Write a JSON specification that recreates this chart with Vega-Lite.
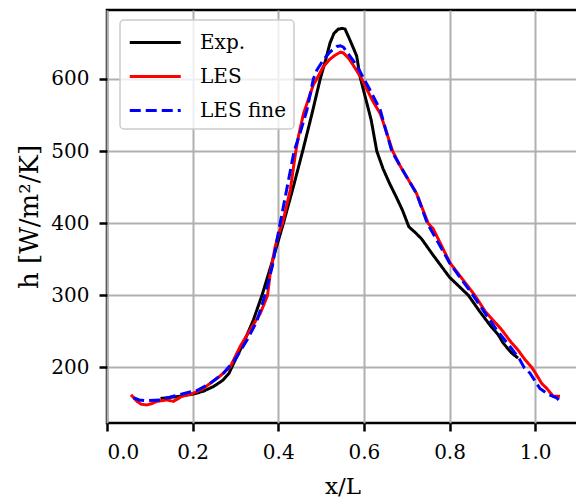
{
  "$schema": "https://vega.github.io/schema/vega-lite/v6.json",
  "autosize": "none",
  "padding": {"left": 107, "top": 10, "right": 0, "bottom": 75},
  "width": 471,
  "height": 413,
  "background": "white",
  "data": {"values": [
    {"s":"Exp.","x":0.125,"h":157},{"s":"Exp.","x":0.14,"h":158},{"s":"Exp.","x":0.17,"h":160},{"s":"Exp.","x":0.2,"h":163},{"s":"Exp.","x":0.225,"h":167},{"s":"Exp.","x":0.25,"h":174},{"s":"Exp.","x":0.27,"h":182},{"s":"Exp.","x":0.285,"h":192},{"s":"Exp.","x":0.296,"h":206},{"s":"Exp.","x":0.319,"h":234},{"s":"Exp.","x":0.342,"h":266},{"s":"Exp.","x":0.362,"h":300},{"s":"Exp.","x":0.385,"h":345},{"s":"Exp.","x":0.412,"h":400},{"s":"Exp.","x":0.435,"h":450},{"s":"Exp.","x":0.457,"h":500},{"s":"Exp.","x":0.478,"h":550},{"s":"Exp.","x":0.498,"h":600},{"s":"Exp.","x":0.51,"h":625},{"s":"Exp.","x":0.521,"h":650},{"s":"Exp.","x":0.53,"h":663},{"s":"Exp.","x":0.54,"h":669},{"s":"Exp.","x":0.55,"h":670},{"s":"Exp.","x":0.556,"h":669},{"s":"Exp.","x":0.568,"h":653},{"s":"Exp.","x":0.583,"h":632},{"s":"Exp.","x":0.591,"h":603},{"s":"Exp.","x":0.617,"h":543},{"s":"Exp.","x":0.63,"h":500},{"s":"Exp.","x":0.645,"h":475},{"s":"Exp.","x":0.66,"h":455},{"s":"Exp.","x":0.675,"h":437},{"s":"Exp.","x":0.69,"h":418},{"s":"Exp.","x":0.705,"h":395},{"s":"Exp.","x":0.72,"h":387},{"s":"Exp.","x":0.735,"h":378},{"s":"Exp.","x":0.76,"h":357},{"s":"Exp.","x":0.8,"h":325},{"s":"Exp.","x":0.844,"h":300},{"s":"Exp.","x":0.87,"h":278},{"s":"Exp.","x":0.894,"h":259},{"s":"Exp.","x":0.914,"h":245},{"s":"Exp.","x":0.925,"h":234},{"s":"Exp.","x":0.945,"h":220},{"s":"Exp.","x":0.96,"h":213},
    {"s":"LES","x":0.056,"h":162},{"s":"LES","x":0.07,"h":153},{"s":"LES","x":0.08,"h":149},{"s":"LES","x":0.093,"h":148},{"s":"LES","x":0.105,"h":150},{"s":"LES","x":0.117,"h":153},{"s":"LES","x":0.14,"h":155},{"s":"LES","x":0.155,"h":153},{"s":"LES","x":0.175,"h":160},{"s":"LES","x":0.2,"h":164},{"s":"LES","x":0.22,"h":169},{"s":"LES","x":0.241,"h":178},{"s":"LES","x":0.264,"h":188},{"s":"LES","x":0.288,"h":201},{"s":"LES","x":0.311,"h":229},{"s":"LES","x":0.334,"h":252},{"s":"LES","x":0.358,"h":275},{"s":"LES","x":0.369,"h":291},{"s":"LES","x":0.375,"h":300},{"s":"LES","x":0.381,"h":330},{"s":"LES","x":0.393,"h":368},{"s":"LES","x":0.404,"h":391},{"s":"LES","x":0.41,"h":400},{"s":"LES","x":0.428,"h":446},{"s":"LES","x":0.441,"h":500},{"s":"LES","x":0.447,"h":520},{"s":"LES","x":0.459,"h":552},{"s":"LES","x":0.482,"h":592},{"s":"LES","x":0.49,"h":600},{"s":"LES","x":0.505,"h":617},{"s":"LES","x":0.52,"h":627},{"s":"LES","x":0.533,"h":633},{"s":"LES","x":0.545,"h":637},{"s":"LES","x":0.552,"h":636},{"s":"LES","x":0.565,"h":628},{"s":"LES","x":0.575,"h":619},{"s":"LES","x":0.595,"h":600},{"s":"LES","x":0.62,"h":570},{"s":"LES","x":0.638,"h":552},{"s":"LES","x":0.645,"h":540},{"s":"LES","x":0.667,"h":500},{"s":"LES","x":0.684,"h":480},{"s":"LES","x":0.723,"h":441},{"s":"LES","x":0.75,"h":400},{"s":"LES","x":0.762,"h":392},{"s":"LES","x":0.801,"h":345},{"s":"LES","x":0.832,"h":321},{"s":"LES","x":0.859,"h":300},{"s":"LES","x":0.883,"h":278},{"s":"LES","x":0.898,"h":268},{"s":"LES","x":0.922,"h":252},{"s":"LES","x":0.945,"h":234},{"s":"LES","x":0.96,"h":224},{"s":"LES","x":0.976,"h":211},{"s":"LES","x":0.992,"h":200},{"s":"LES","x":1.003,"h":190},{"s":"LES","x":1.015,"h":178},{"s":"LES","x":1.027,"h":171},{"s":"LES","x":1.042,"h":160},{"s":"LES","x":1.058,"h":160},
    {"s":"LES fine","x":0.062,"h":158},{"s":"LES fine","x":0.075,"h":155},{"s":"LES fine","x":0.093,"h":154},{"s":"LES fine","x":0.124,"h":155},{"s":"LES fine","x":0.155,"h":160},{"s":"LES fine","x":0.187,"h":165},{"s":"LES fine","x":0.21,"h":168},{"s":"LES fine","x":0.241,"h":178},{"s":"LES fine","x":0.272,"h":192},{"s":"LES fine","x":0.299,"h":211},{"s":"LES fine","x":0.327,"h":238},{"s":"LES fine","x":0.35,"h":264},{"s":"LES fine","x":0.369,"h":300},{"s":"LES fine","x":0.386,"h":340},{"s":"LES fine","x":0.397,"h":377},{"s":"LES fine","x":0.412,"h":423},{"s":"LES fine","x":0.437,"h":500},{"s":"LES fine","x":0.451,"h":525},{"s":"LES fine","x":0.467,"h":557},{"s":"LES fine","x":0.482,"h":600},{"s":"LES fine","x":0.49,"h":612},{"s":"LES fine","x":0.505,"h":626},{"s":"LES fine","x":0.52,"h":637},{"s":"LES fine","x":0.537,"h":645},{"s":"LES fine","x":0.545,"h":646},{"s":"LES fine","x":0.552,"h":644},{"s":"LES fine","x":0.567,"h":632},{"s":"LES fine","x":0.583,"h":619},{"s":"LES fine","x":0.6,"h":600},{"s":"LES fine","x":0.614,"h":585},{"s":"LES fine","x":0.638,"h":557},{"s":"LES fine","x":0.665,"h":500},{"s":"LES fine","x":0.684,"h":480},{"s":"LES fine","x":0.723,"h":441},{"s":"LES fine","x":0.748,"h":400},{"s":"LES fine","x":0.8,"h":345},{"s":"LES fine","x":0.855,"h":300},{"s":"LES fine","x":0.88,"h":278},{"s":"LES fine","x":0.91,"h":252},{"s":"LES fine","x":0.94,"h":230},{"s":"LES fine","x":0.964,"h":211},{"s":"LES fine","x":0.974,"h":200},{"s":"LES fine","x":0.988,"h":192},{"s":"LES fine","x":1.003,"h":178},{"s":"LES fine","x":1.011,"h":171},{"s":"LES fine","x":1.03,"h":163},{"s":"LES fine","x":1.05,"h":158},{"s":"LES fine","x":1.055,"h":155}
  ]},
  "mark": {"type": "line", "strokeWidth": 3, "clip": true},
  "encoding": {
    "x": {"field": "x", "type": "quantitative",
      "scale": {"domain": [0, 1.1], "nice": false, "zero": false},
      "axis": {"title": "x/L", "values": [0, 0.2, 0.4, 0.6, 0.8, 1.0], "format": ".1f", "labelPadding": 11, "titlePadding": 13, "titleFontSize": 23}},
    "y": {"field": "h", "type": "quantitative",
      "scale": {"domain": [123, 695.5], "nice": false, "zero": false},
      "axis": {"title": "h [W/m²/K]", "values": [200, 300, 400, 500, 600], "labelPadding": 10, "titlePadding": 8, "titleFontSize": 26}},
    "color": {"field": "s", "type": "nominal",
      "scale": {"domain": ["Exp.", "LES", "LES fine"], "range": ["#000000", "#ff0000", "#0000ff"]},
      "legend": {"title": null, "orient": "none", "legendX": 13, "legendY": 10}},
    "strokeDash": {"field": "s", "type": "nominal",
      "scale": {"domain": ["Exp.", "LES", "LES fine"], "range": [[1, 0], [1, 0], [11, 5]]},
      "legend": {"title": null, "orient": "none", "legendX": 13, "legendY": 10}}
  },
  "config": {
    "font": "DejaVu Serif",
    "view": {"stroke": "black", "strokeWidth": 2.5},
    "axis": {
      "domain": false, "grid": true, "gridColor": "#b0b0b0", "gridWidth": 2,
      "ticks": true, "tickColor": "black", "tickWidth": 2.5, "tickSize": 8,
      "labelFont": "DejaVu Serif", "labelFontSize": 20, "labelColor": "black",
      "titleFont": "DejaVu Serif", "titleFontSize": 20, "titleFontWeight": "normal", "titleColor": "black"
    },
    "legend": {
      "symbolType": "M-1,0H3", "symbolSize": 650, "symbolStrokeWidth": 3,
      "labelFont": "DejaVu Serif", "labelFontSize": 20, "labelColor": "black",
      "labelOffset": 43, "rowPadding": 9, "padding": 8,
      "fillColor": "rgba(255,255,255,0.8)", "strokeColor": "#cccccc", "strokeWidth": 1.5, "cornerRadius": 4
    }
  }
}
